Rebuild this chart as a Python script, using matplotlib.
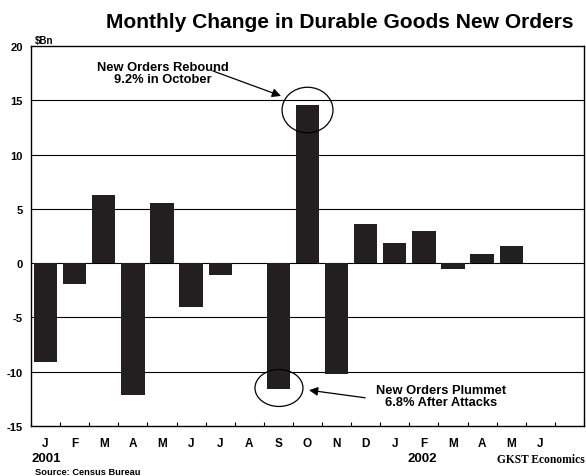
import numpy as np
import matplotlib
matplotlib.use('Agg')
import matplotlib.pyplot as plt
from matplotlib.patches import Ellipse

meses = ['J', 'F', 'M', 'A', 'M', 'J', 'J', 'A', 'S', 'O', 'N', 'D',
         'J', 'F', 'M', 'A', 'M', 'J', '']
variacao = [-9.1, -1.9, 6.3, -12.1, 5.5, -4.0, -1.1, 0.0, -11.6, 14.6, -10.2, 3.6,
            1.9, 3.0, -0.5, 0.8, 1.6, np.nan, np.nan]
ticks_y = [-15, -10, -5, 0, 5, 10, 15, 20]

plt.rcParams['font.family'] = ['Liberation Sans', 'DejaVu Sans']
plt.rcParams['font.weight'] = 'bold'

fig = plt.figure(figsize=(5.86, 4.77), dpi=100)
ax = fig.add_axes([0.0529, 0.1048, 0.9437, 0.7967])

x = np.arange(len(meses))
ax.bar(x, variacao, width=0.8, color='#231f20', zorder=3)

ax.set_xlim(-0.5, len(meses) - 0.5)
ax.set_ylim(-15, 20)
ax.set_yticks(ticks_y)
ax.set_yticklabels([str(t) for t in ticks_y], fontsize=8, fontweight='bold')
for t in ticks_y[1:-1]:
    ax.axhline(t, color='black', lw=0.8, zorder=1)
ax.tick_params(axis='y', length=0, pad=6)

ax.set_xticks(np.arange(len(meses) + 1) - 0.5)
ax.set_xticklabels([])
ax.set_xticks(x, minor=True)
ax.set_xticklabels(meses, minor=True, fontsize=8.5, fontweight='bold')
ax.tick_params(axis='x', which='major', length=3, direction='in', width=0.8)
ax.tick_params(axis='x', which='minor', length=0, pad=8)
for s in ax.spines.values():
    s.set_linewidth(1.0)

fig.text(0.58, 0.952, 'Monthly Change in Durable Goods New Orders', ha='center', va='center',
         fontsize=15.1, fontweight='bold')
fig.text(0.06, 0.915, '$Bn', fontsize=7, fontweight='bold', va='center')
fig.text(0.053, 0.038, '2001', fontsize=9.5, fontweight='bold', va='center')
fig.text(0.72, 0.038, '2002', fontsize=9.5, fontweight='bold', va='center', ha='center')
fig.text(0.06, 0.009, 'Source: Census Bureau', fontsize=6.7, fontweight='bold', va='center')
fig.text(0.998, 0.036, 'GKST Economics', fontsize=8.3, fontweight='bold', ha='right',
         va='center', family='Liberation Serif')

# anotações
ax.add_patch(Ellipse((9, 14.1), 1.75, 4.2, fill=False, lw=0.9, color='black', zorder=4))
ax.add_patch(Ellipse((8.02, -11.5), 1.65, 3.4, fill=False, lw=0.9, color='black', zorder=4))
ax.text(4.04, 17.5, 'New Orders Rebound\n9.2% in October', ha='center', va='center',
        fontsize=9.3, fontweight='bold', linespacing=1.0)
ax.text(13.6, -12.2, 'New Orders Plummet\n6.8% After Attacks', ha='center', va='center',
        fontsize=9.3, fontweight='bold', linespacing=1.0)
seta = dict(arrowstyle='-|>', color='black', lw=0.9, mutation_scale=13, shrinkA=0, shrinkB=0)
ax.annotate('', xy=(8.09, 15.4), xytext=(5.75, 17.7), arrowprops=seta)
ax.annotate('', xy=(9.05, -11.7), xytext=(10.98, -12.4), arrowprops=seta)

fig.savefig('out.png', dpi=100)
